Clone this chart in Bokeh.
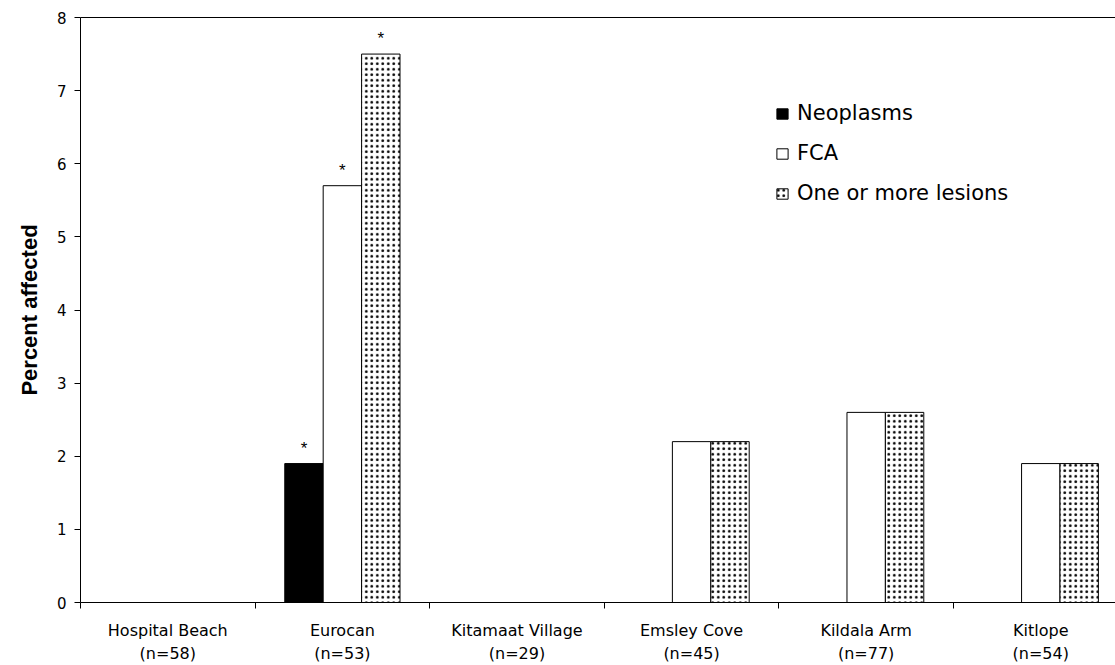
from bokeh.plotting import figure
from bokeh.models import (ColumnDataSource, FixedTicker, LinearAxis, Range1d,
                          Legend, LegendItem)
from bokeh.core.properties import value
from bokeh.embed import file_html
from bokeh.resources import INLINE

sites = ["Hospital Beach", "Eurocan", "Kitamaat Village", "Emsley Cove", "Kildala Arm", "Kitlope"]
sample_sizes = ["(n=58)", "(n=53)", "(n=29)", "(n=45)", "(n=77)", "(n=54)"]
neoplasms = [0, 1.9, 0, 0, 0, 0]
fca = [0, 5.7, 0, 2.2, 2.6, 1.9]
lesions = [0, 7.5, 0, 2.2, 2.6, 1.9]
significant_neo = [False, True, False, False, False, False]
significant_fca = [False, True, False, False, False, False]
significant_les = [False, True, False, False, False, False]
y_ticks = [0, 1, 2, 3, 4, 5, 6, 7, 8]

FONT = "DejaVu Sans"
LABEL_FONT = "Liberation Sans"
BAR_W = 0.22

centers = [i + 0.5 for i in range(len(sites))]

p = figure(width=1115, height=665, output_backend="svg", toolbar_location=None,
           x_range=Range1d(0, 5.928), y_range=Range1d(0, 8),
           min_border_left=80, min_border_right=0, min_border_top=17, min_border_bottom=60,
           x_axis_location=None, y_axis_location=None)
p.xgrid.visible = False
p.ygrid.visible = False
p.outline_line_color = None
p.background_fill_color = "white"
p.border_fill_color = "white"

def bar_source(vals, offset):
    keep = [i for i, v in enumerate(vals) if v > 0]
    return ColumnDataSource(dict(x=[centers[i] + offset for i in keep],
                                 top=[vals[i] for i in keep]))

r_neo = p.vbar(x="x", top="top", bottom=0, width=BAR_W, source=bar_source(neoplasms, -BAR_W),
               fill_color="black", line_color="black", line_width=1)
r_fca = p.vbar(x="x", top="top", bottom=0, width=BAR_W, source=bar_source(fca, 0),
               fill_color="white", line_color="black", line_width=1)
r_les = p.vbar(x="x", top="top", bottom=0, width=BAR_W, source=bar_source(lesions, BAR_W),
               fill_color="white", line_color="black", line_width=1,
               hatch_pattern="dot", hatch_color="black", hatch_scale=5.5, hatch_weight=4.5)

# significance stars
sx, sy = [], []
for vals, sig, off in [(neoplasms, significant_neo, -BAR_W), (fca, significant_fca, 0),
                       (lesions, significant_les, BAR_W)]:
    for i, (v, s) in enumerate(zip(vals, sig)):
        if s:
            sx.append(centers[i] + off)
            sy.append(v)
p.text(x=sx, y=sy, text=["*"] * len(sx), text_align="center", text_baseline="bottom",
       y_offset=-6, text_font=value(LABEL_FONT), text_font_size="17px", text_color="black")

# y axis
yax = LinearAxis(ticker=FixedTicker(ticks=y_ticks))
yax.axis_line_color = "black"
yax.major_tick_line_color = "black"
yax.major_tick_out = 6
yax.major_tick_in = 0
yax.minor_tick_line_color = None
yax.major_label_text_font = FONT
yax.major_label_text_font_size = "15px"
yax.major_label_text_color = "black"
yax.major_label_standoff = 8
yax.axis_label = "Percent affected"
yax.axis_label_text_font = LABEL_FONT
yax.axis_label_text_font_style = "bold"
yax.axis_label_text_font_size = "22px"
yax.axis_label_text_color = "black"
yax.axis_label_standoff = 12
p.add_layout(yax, "left")

# x axis (category names)
xax = LinearAxis(ticker=FixedTicker(ticks=centers, minor_ticks=list(range(len(sites) + 1))))
xax.major_label_overrides = {c: s for c, s in zip(centers, sites)}
xax.axis_line_color = "black"
xax.major_tick_line_color = None
xax.major_tick_out = 0
xax.major_tick_in = 0
xax.minor_tick_line_color = "black"
xax.minor_tick_out = 6
xax.minor_tick_in = 0
xax.major_label_text_font = FONT
xax.major_label_text_font_size = "16px"
xax.major_label_text_color = "black"
xax.major_label_standoff = 12
p.add_layout(xax, "below")

# second line (sample sizes)
xax2 = LinearAxis(ticker=FixedTicker(ticks=centers))
xax2.major_label_overrides = {c: s for c, s in zip(centers, sample_sizes)}
xax2.axis_line_color = None
xax2.major_tick_line_color = None
xax2.minor_tick_line_color = None
xax2.major_tick_out = 0
xax2.major_tick_in = 0
xax2.major_label_text_font = FONT
xax2.major_label_text_font_size = "16px"
xax2.major_label_text_color = "black"
xax2.major_label_standoff = 1
p.add_layout(xax2, "below")

# top frame line
top = LinearAxis(ticker=FixedTicker(ticks=[]))
top.axis_line_color = "black"
top.major_tick_line_color = None
top.minor_tick_line_color = None
top.major_label_text_font_size = "0px"
p.add_layout(top, "above")

legend = Legend(items=[LegendItem(label="Neoplasms", renderers=[r_neo]),
                       LegendItem(label="FCA", renderers=[r_fca]),
                       LegendItem(label="One or more lesions", renderers=[r_les])],
                location=(695, 397))
legend.border_line_color = None
legend.background_fill_alpha = 0
legend.padding = 0
legend.margin = 0
legend.spacing = 16
legend.label_height = 20
legend.glyph_width = 14
legend.glyph_height = 13
legend.label_text_font = FONT
legend.label_text_font_size = "21px"
legend.label_text_color = "black"
legend.label_standoff = 8
p.add_layout(legend)

open("out.html", "w").write(file_html(p, INLINE))
